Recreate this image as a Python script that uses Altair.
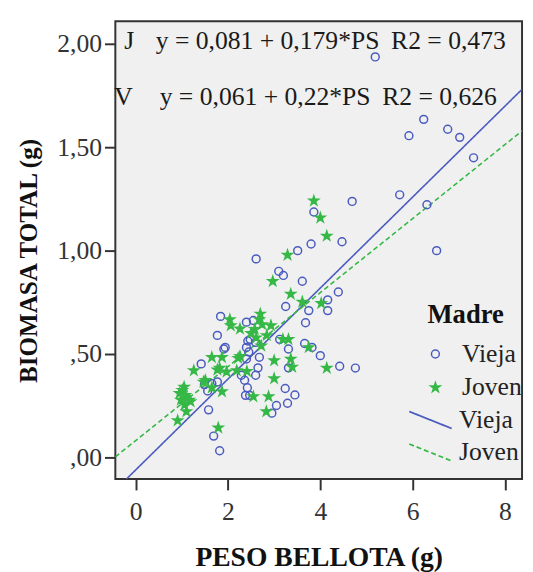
import altair as alt
import pandas as pd

# ---------------- data ----------------
vieja_x = [5.19, 6.24, 5.92, 6.76, 7.02, 7.32, 5.72, 6.31, 6.52, 4.69,
           3.86, 4.47, 3.80, 3.51, 2.61, 3.10, 3.20, 3.61, 4.39, 4.16,
           4.16, 3.25, 3.75, 3.68, 1.84, 2.40, 2.55, 1.77, 2.43, 2.48,
           2.60, 2.40, 1.94, 1.91, 3.12, 3.31, 3.66, 3.82, 4.00, 4.42,
           4.76, 3.31, 2.68, 2.65, 2.40, 2.45, 2.29, 2.60, 2.42, 2.38,
           2.47, 3.24, 3.45, 3.29, 3.05, 2.95, 1.42, 1.49, 1.56, 1.65,
           1.77, 1.58, 1.69, 1.82, 2.36]
vieja_y = [1.937, 1.635, 1.556, 1.587, 1.548, 1.449, 1.270, 1.222, 1.000, 1.238,
           1.187, 1.043, 1.032, 1.000, 0.960, 0.900, 0.880, 0.852, 0.800, 0.762,
           0.710, 0.730, 0.710, 0.651, 0.682, 0.654, 0.662, 0.590, 0.563, 0.571,
           0.556, 0.532, 0.532, 0.524, 0.571, 0.524, 0.551, 0.532, 0.492, 0.441,
           0.432, 0.433, 0.484, 0.433, 0.476, 0.510, 0.397, 0.397, 0.337, 0.300,
           0.300, 0.333, 0.302, 0.262, 0.251, 0.214, 0.452, 0.352, 0.321, 0.357,
           0.365, 0.230, 0.103, 0.032, 0.373]
joven_x = [3.86, 4.00, 4.14, 3.29, 2.97, 3.36, 3.61, 4.02, 2.70, 2.68,
           2.74, 2.26, 2.04, 2.06, 2.93, 2.84, 2.61, 2.72, 2.26, 1.82,
           1.77, 1.65, 1.87, 1.26, 1.97, 2.19, 2.41, 2.55, 2.88, 2.83,
           3.00, 3.00, 3.36, 3.39, 3.19, 3.31, 3.75, 4.14, 1.79, 1.01,
           1.08, 1.16, 1.19, 0.98, 1.06, 1.10, 0.91, 1.47, 1.87, 1.65,
           1.51, 2.50, 2.58, 0.95, 1.05, 2.22]
joven_y = [1.241, 1.159, 1.071, 0.979, 0.852, 0.790, 0.752, 0.745, 0.694, 0.667,
           0.643, 0.622, 0.667, 0.638, 0.638, 0.590, 0.579, 0.540, 0.489, 0.432,
           0.424, 0.484, 0.484, 0.420, 0.414, 0.420, 0.416, 0.294, 0.294, 0.222,
           0.381, 0.468, 0.476, 0.437, 0.571, 0.571, 0.532, 0.432, 0.143, 0.325,
           0.300, 0.278, 0.270, 0.278, 0.254, 0.222, 0.178, 0.365, 0.318, 0.337,
           0.373, 0.600, 0.620, 0.310, 0.340, 0.480]

groups = ["Vieja", "Joven"]
# fitted lines as drawn in the picture (intercept, slope)
intercepts = [-0.061, 0.081]
slopes = [0.22, 0.179]

x_domain = [-0.44, 8.37]
y_domain = [-0.105, 2.11]
x_ticks = [0, 2, 4, 6, 8]
y_ticks = [0, 0.5, 1.0, 1.5, 2.0]

eq_J = ["J", "y = 0,081 + 0,179*PS", "R2 = 0,473"]
eq_V = ["V", "y = 0,061 + 0,22*PS", "R2 = 0,626"]

# ---------------- styling ----------------
BLUE = "#4a5bbf"
GREEN = "#36b846"
FONT = "Liberation Serif"
STAR = ("M0,-1L0.2245,-0.309L0.951,-0.309L0.363,0.118L0.588,0.809L0,0.382"
        "L-0.588,0.809L-0.363,0.118L-0.951,-0.309L-0.2245,-0.309Z")

pts = pd.DataFrame({
    "PESO": vieja_x + joven_x,
    "BIOMASA": vieja_y + joven_y,
    "Madre": ["Vieja"] * len(vieja_x) + ["Joven"] * len(joven_x),
})
lines = pd.DataFrame([
    {"PESO": x, "BIOMASA": a + b * x, "Recta": g}
    for g, a, b in zip(groups, intercepts, slopes) for x in x_domain
])

xscale = alt.Scale(domain=x_domain, nice=False, zero=False)
yscale = alt.Scale(domain=y_domain, nice=False, zero=False)

xaxis = alt.Axis(values=x_ticks, format="d", title="PESO BELLOTA (g)",
                 titlePadding=20, labelPadding=9, titleFontSize=28)
yaxis = alt.Axis(values=y_ticks, title="BIOMASA TOTAL (g)", titlePadding=16,
                 labelPadding=3, titleFontSize=25.5, titleY=243,
                 labelExpr="datum.value < 1 ? replace(format(datum.value, '.2f'), '0.', ',') : replace(format(datum.value, '.2f'), '.', ',')")

pt_legend = alt.Legend(
    title="Madre", orient="none", legendX=317, legendY=286, padding=0,
    titleFont=FONT, titleFontSize=27, titleFontWeight="bold", titleColor="#111",
    titlePadding=12, labelFont=FONT, labelFontSize=26, labelColor="#222",
    symbolSize=45, symbolStrokeWidth=1.5, rowPadding=8, symbolOffset=-5,
    labelOffset=14,
)
line_legend = alt.Legend(
    title=None, orient="none", legendX=307, legendY=392, padding=0,
    labelFont=FONT, labelFontSize=26, labelColor="#222",
    symbolType="M-2,-0.8L2,0.8", symbolSize=462, symbolStrokeWidth=1.8,
    rowPadding=7, labelOffset=16, symbolOffset=0,
)

points = alt.Chart(pts).mark_point(filled=False, strokeWidth=1.5, opacity=1).encode(
    x=alt.X("PESO:Q", scale=xscale, axis=xaxis),
    y=alt.Y("BIOMASA:Q", scale=yscale, axis=yaxis),
    color=alt.Color("Madre:N", scale=alt.Scale(domain=groups, range=[BLUE, GREEN]), legend=pt_legend),
    fill=alt.Fill("Madre:N", scale=alt.Scale(domain=groups, range=["transparent", GREEN]), legend=pt_legend),
    shape=alt.Shape("Madre:N", scale=alt.Scale(domain=groups, range=["circle", STAR]), legend=pt_legend),
    size=alt.Size("Madre:N", scale=alt.Scale(domain=groups, range=[64, 100]), legend=None),
)

reg = alt.Chart(lines).mark_line(clip=True, strokeWidth=1.6).encode(
    x=alt.X("PESO:Q", scale=xscale),
    y=alt.Y("BIOMASA:Q", scale=yscale),
    color=alt.Color("Recta:N", scale=alt.Scale(domain=groups, range=[BLUE, GREEN]), legend=line_legend),
    strokeDash=alt.StrokeDash("Recta:N", scale=alt.Scale(domain=groups, range=[[1, 0], [5, 3]]), legend=line_legend),
    order="PESO:Q",
)

def txt(s, x, y):
    return alt.Chart(pd.DataFrame({"t": [s]})).mark_text(
        font=FONT, fontSize=26, color="#1a1a1a", align="left", baseline="alphabetic"
    ).encode(x=alt.value(x), y=alt.value(y), text="t:N")

texts = [
    txt(eq_J[0], 9, 28), txt(eq_J[1], 41, 28), txt(eq_J[2], 280, 28),
    txt(eq_V[0], -1, 85), txt(eq_V[1], 45, 85), txt(eq_V[2], 271, 85),
]

chart = alt.layer(reg, points, *texts).resolve_scale(
    color="independent", fill="independent", shape="independent",
    size="independent", strokeDash="independent",
).resolve_legend(
    color="independent", fill="independent", shape="independent",
    size="independent", strokeDash="independent",
).properties(
    width=413, height=465,
    background="white",
    autosize=alt.AutoSizeParams(type="none"),
    padding={"left": 109, "top": 9, "right": 3, "bottom": 90},
).configure_view(
    fill="#f0f0f0", stroke="#333333", strokeWidth=2
).configure_axis(
    grid=False, domain=False, ticks=True, tickColor="#333333", tickSize=11,
    tickWidth=2, labelFont=FONT, labelFontSize=26, labelColor="#333333",
    titleFont=FONT, titleFontSize=27, titleFontWeight="bold", titleColor="#111111",
)

chart.save("out.html", embed_options={"renderer": "svg", "actions": False})
